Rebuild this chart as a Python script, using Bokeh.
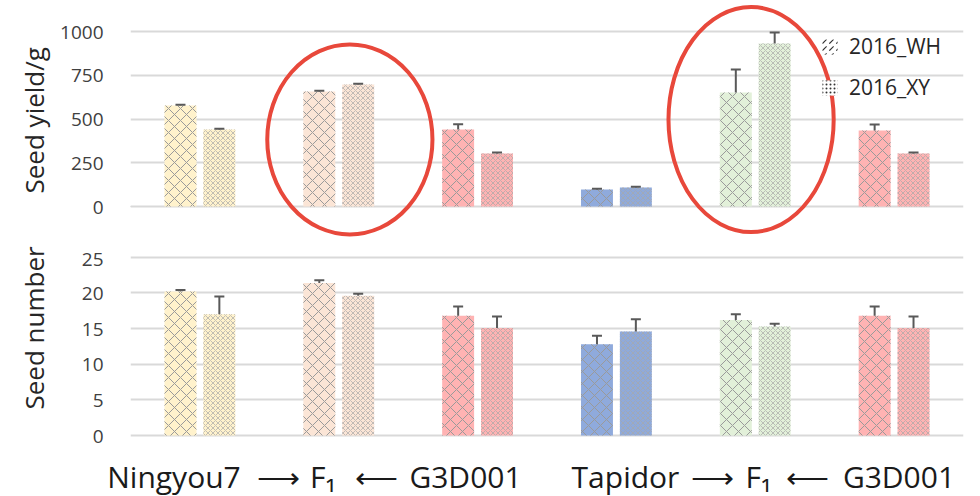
from bokeh.plotting import figure
from bokeh.layouts import column
from bokeh.models import (Range1d, FixedTicker, ColumnDataSource, Whisker, TeeHead,
                          Legend, LegendItem, Title)
from bokeh.embed import file_html
from bokeh.resources import INLINE

# ---------------- data ----------------
groups = ["Ningyou7", "F1 (Ningyou7 x G3D001)", "G3D001", "Tapidor", "F1 (Tapidor x G3D001)", "G3D001"]
colors = ["#FFF2CC", "#FBE5D6", "#FFB3B3", "#8FAADC", "#E2F0D9", "#FFB3B3"]
series = ["2016_WH", "2016_XY"]

yield_wh = [577, 657, 440, 97, 651, 434]
yield_wh_err = [5, 5, 30, 5, 132, 35]
yield_xy = [440, 697, 303, 108, 931, 303]
yield_xy_err = [5, 5, 5, 5, 63, 5]

number_wh = [20.2, 21.4, 16.8, 12.8, 16.2, 16.8]
number_wh_err = [0.2, 0.4, 1.3, 1.2, 0.8, 1.3]
number_xy = [17.0, 19.6, 15.1, 14.6, 15.3, 15.1]
number_xy_err = [2.5, 0.3, 1.6, 1.7, 0.4, 1.6]

yield_ticks = [0, 250, 500, 750, 1000]
number_ticks = [0, 5, 10, 15, 20, 25]

# highlighted (circled) groups in the yield panel
circled_groups = [1, 4]
circle_center_yield = [383, 497]
circle_height_yield = [1086, 1286]

# cross-scheme caption under the bars
caption_parts = ["Ningyou7", "\u27f6", "F\u2081", "\u27f5", "G3D001",
                 "Tapidor", "\u27f6", "F\u2081", "\u27f5", "G3D001"]

# ---------------- layout constants ----------------
W = 980
LEFT, RIGHT = 130, 17
N = len(groups)
UNIT = (W - LEFT - RIGHT) / N
OFF, BW = 0.14, 0.23
FONT = "Open Sans"
TXT = "#262626"
TICK = "#404040"
GRID = "#D9D9D9"
ERR = "#595959"
WH_HATCH = dict(hatch_pattern="diagonal_cross", hatch_color="#9A9A9A", hatch_scale=12, hatch_weight=1.0)
XY_HATCH = dict(hatch_pattern="diagonal_cross", hatch_color="#A8A8A8", hatch_scale=5, hatch_weight=0.7)

x_wh = [i + 0.5 - OFF for i in range(N)]
x_xy = [i + 0.5 + OFF for i in range(N)]

# caption centres on screen (pixels) converted to data x
caption_px = [173.5, 278, 322.5, 376, 465, 625, 712, 758, 807, 898.5]
caption_x = [round((c - LEFT) / UNIT, 4) for c in caption_px]


def style(p, ticks, label, label_offset, pads):
    p.xgrid.visible = False
    p.ygrid.grid_line_color = GRID
    p.ygrid.grid_line_width = 2
    p.outline_line_color = None
    p.yaxis.ticker = FixedTicker(ticks=ticks)
    p.yaxis.axis_line_color = None
    p.yaxis.major_tick_line_color = None
    p.yaxis.minor_tick_line_color = None
    p.yaxis.major_tick_out = 0
    p.yaxis.major_label_standoff = 27
    p.yaxis.major_label_text_font = FONT
    p.yaxis.major_label_text_font_size = "19px"
    p.yaxis.major_label_text_color = TICK
    p.yaxis.major_label_overrides = {ticks[-1]: pads + str(ticks[-1])}
    p.add_layout(Title(text=label, align="left", offset=label_offset, standoff=2,
                       text_font=FONT, text_font_size="26px", text_font_style="normal",
                       text_color=TXT), "left")


def bars(p, wh, wh_err, xy, xy_err):
    src_wh = ColumnDataSource(dict(x=x_wh, top=wh, color=colors,
                                   upper=[v + e for v, e in zip(wh, wh_err)]))
    src_xy = ColumnDataSource(dict(x=x_xy, top=xy, color=colors,
                                   upper=[v + e for v, e in zip(xy, xy_err)]))
    p.vbar(x="x", top="top", bottom=0, width=BW, source=src_wh, fill_color="color",
           line_color=None, **WH_HATCH)
    p.vbar(x="x", top="top", bottom=0, width=BW, source=src_xy, fill_color="color",
           line_color=None, **XY_HATCH)
    for src in (src_wh, src_xy):
        w = Whisker(source=src, base="x", lower="top", upper="upper", lower_head=None,
                    upper_head=TeeHead(size=10, line_color=ERR, line_width=2),
                    line_color=ERR, line_width=2, level="overlay")
        p.add_layout(w)


def base_fig(height, y_range):
    return figure(width=W, height=height, x_range=Range1d(0, N), y_range=y_range,
                  output_backend="svg", toolbar_location=None,
                  min_border_left=LEFT, min_border_right=RIGHT,
                  min_border_top=0, min_border_bottom=0)


# ---------------- top: seed yield ----------------
PX_Y = 175 / 1000.0
p1 = base_fig(245, Range1d(-(245 - 206) / PX_Y, 1000 + 31 / PX_Y))
p1.xaxis.visible = False
style(p1, yield_ticks, "Seed yield/g", 52, "\u00a0")
bars(p1, yield_wh, yield_wh_err, yield_xy, yield_xy_err)

p1.ellipse(x=[g + 0.5 + d for g, d in zip(circled_groups, [0.08, -0.03])],
           y=circle_center_yield, width=[1.19, 1.19], height=circle_height_yield,
           fill_color=None, line_color="#E8483B", line_width=4)

# legend swatches (placed off-range so only the legend shows them)
leg_wh = p1.vbar(x=[-5], top=[1], width=0.2, fill_color="white", line_color=None,
                 hatch_pattern="right_diagonal_dash", hatch_color="#333333", hatch_scale=7, hatch_weight=1.2)
leg_xy = p1.vbar(x=[-5], top=[1], width=0.2, fill_color="white", line_color=None,
                 hatch_pattern="dot", hatch_color="#333333", hatch_scale=4, hatch_weight=1)
legend = Legend(items=[LegendItem(label=series[0], renderers=[leg_wh]),
                       LegendItem(label=series[1], renderers=[leg_xy])],
                location=(690, 144), orientation="vertical",
                glyph_width=19, glyph_height=19, label_standoff=10, spacing=13,
                padding=0, margin=0, border_line_color=None, background_fill_alpha=0)
legend.label_text_font = FONT
legend.label_text_font_size = "21px"
legend.label_text_color = TXT
p1.add_layout(legend, "center")

# ---------------- bottom: seed number + caption axis ----------------
PX_N = 181 / 25.0
p2 = base_fig(254, Range1d(-(445 - 438) / PX_N, 25 + (257 - 245) / PX_N))
style(p2, number_ticks, "Seed number", 33, "\u2007\u2007\u00a0")
bars(p2, number_wh, number_wh_err, number_xy, number_xy_err)

p2.xaxis.ticker = FixedTicker(ticks=caption_x)
p2.xaxis.major_label_overrides = {k: t for k, t in zip(caption_x, caption_parts)}
p2.xaxis.axis_line_color = None
p2.xaxis.major_tick_line_color = None
p2.xaxis.minor_tick_line_color = None
p2.xaxis.major_tick_out = 0
p2.xaxis.major_tick_in = 0
p2.xaxis.major_label_standoff = 13
p2.xaxis.major_label_text_font = FONT
p2.xaxis.major_label_text_font_size = "30px"
p2.xaxis.major_label_text_color = "#1A1A1A"

layout = column(p1, p2, spacing=0)
open("out.html", "w").write(file_html(layout, INLINE))
